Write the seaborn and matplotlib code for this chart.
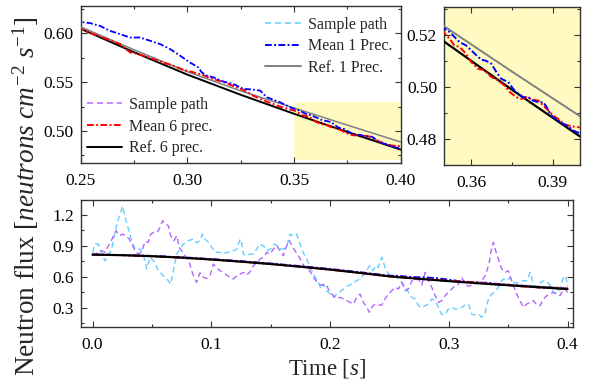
import matplotlib
matplotlib.use("Agg")
import matplotlib.pyplot as plt
import seaborn as sns
from matplotlib.lines import Line2D
from matplotlib.patches import Rectangle
from matplotlib.ticker import MultipleLocator, FormatStrFormatter

sns.set_theme(style="ticks")
plt.rcParams["font.family"] = ["Liberation Serif", "DejaVu Serif"]
plt.rcParams["mathtext.fontset"] = "custom"
plt.rcParams["mathtext.rm"] = "Liberation Serif"
plt.rcParams["mathtext.it"] = "Liberation Serif:italic"
plt.rcParams["mathtext.bf"] = "Liberation Serif:bold"

# ---------------- data ----------------
# Reference solutions (1 and 6 precursor groups)
REF_T = [0.0, 0.025, 0.05, 0.075, 0.1, 0.125, 0.15, 0.175, 0.2, 0.225,
         0.25, 0.275, 0.3, 0.325, 0.35, 0.375, 0.4]
REF6_V = [0.815, 0.810, 0.800, 0.786, 0.768, 0.747, 0.724, 0.698, 0.670, 0.638,
          0.6044, 0.5805, 0.5576, 0.537, 0.5176, 0.499, 0.481]
REF1_V = [0.817, 0.812, 0.802, 0.788, 0.770, 0.749, 0.726, 0.700, 0.672, 0.640,
          0.6064, 0.583, 0.5606, 0.541, 0.5235, 0.506, 0.4888]

# Monte Carlo means
MEAN1_T = [0.0, 0.025, 0.05, 0.075, 0.1, 0.125, 0.15, 0.175, 0.2, 0.225,
           0.2497, 0.2544, 0.259, 0.2637, 0.2684, 0.2731, 0.2778, 0.2825, 0.2872,
           0.2919, 0.2966, 0.3012, 0.3051, 0.3067, 0.3091, 0.3122, 0.3169, 0.3215,
           0.3262, 0.3300, 0.3341, 0.3372, 0.3434, 0.3480,
           0.3501, 0.352, 0.3538, 0.3557, 0.3581, 0.36, 0.3619, 0.3637, 0.3656,
           0.3674, 0.3693, 0.3711, 0.3723, 0.3736, 0.3754, 0.3773, 0.3791, 0.381,
           0.3828, 0.3847, 0.3865, 0.3878, 0.389, 0.3902, 0.3921, 0.394, 0.3958,
           0.3977, 0.3999]
MEAN1_V = [0.817, 0.812, 0.803, 0.790, 0.772, 0.752, 0.729, 0.704, 0.676, 0.645,
           0.6115, 0.6102, 0.6074, 0.6023, 0.599, 0.5955, 0.5955, 0.5922, 0.5888,
           0.5837, 0.5769, 0.570, 0.565, 0.560, 0.5566, 0.5548, 0.5505, 0.5481,
           0.543, 0.5425, 0.5413, 0.5345, 0.5294, 0.5245,
           0.5226, 0.5213, 0.5194, 0.5174, 0.5161, 0.5142, 0.5123, 0.5106, 0.5101,
           0.509, 0.5058, 0.5032, 0.5026, 0.502, 0.4994, 0.4974, 0.4961, 0.4961,
           0.4948, 0.4942, 0.4942, 0.4923, 0.4897, 0.4884, 0.4871, 0.4858, 0.4848,
           0.4832, 0.4822]

MEAN6_T = [0.0, 0.025, 0.05, 0.075, 0.1, 0.125, 0.15, 0.175, 0.2, 0.225,
           0.2497, 0.2559, 0.2622, 0.2684, 0.2731, 0.2755, 0.2794, 0.2840, 0.2887,
           0.2934, 0.2981, 0.3028, 0.3075, 0.3106, 0.3169, 0.3215, 0.3262, 0.3309,
           0.3372, 0.3434, 0.3480,
           0.3501, 0.352, 0.3538, 0.3557, 0.3581, 0.36, 0.3625, 0.3649, 0.3674,
           0.3699, 0.3723, 0.3742, 0.3767, 0.3785, 0.3804, 0.3828, 0.3847, 0.3865,
           0.3884, 0.3902, 0.3921, 0.394, 0.3958, 0.3977, 0.3999]
MEAN6_V = [0.815, 0.810, 0.800, 0.786, 0.768, 0.747, 0.724, 0.698, 0.670, 0.638,
           0.6047, 0.599, 0.5939, 0.5888, 0.5803, 0.5793, 0.5769, 0.5735, 0.570,
           0.5667, 0.5625, 0.5600, 0.5570, 0.5540, 0.5500, 0.5460, 0.5420, 0.5360,
           0.5300, 0.5250, 0.5220,
           0.5209, 0.5187, 0.5161, 0.5155, 0.5129, 0.5097, 0.5071, 0.5065, 0.5039,
           0.5026, 0.5006, 0.4981, 0.4961, 0.4955, 0.4961, 0.4951, 0.4948, 0.4929,
           0.491, 0.489, 0.4877, 0.4858, 0.4852, 0.4848, 0.4845]

# Sample path, 1 precursor group (light blue)
PATH1_T = [0.0, 0.0021, 0.0049, 0.0077, 0.0105, 0.0133, 0.0161, 0.0189, 0.0218, 0.0254,
           0.0274, 0.0302, 0.0330, 0.0358, 0.0400, 0.0434, 0.0456, 0.0484, 0.0526, 0.0554,
           0.0582, 0.0611, 0.0639, 0.0658, 0.0681, 0.0709, 0.0737, 0.0765, 0.0807, 0.0849,
           0.0877, 0.0905, 0.0925, 0.0947, 0.0976, 0.1004, 0.1032, 0.1074, 0.1102, 0.1130,
           0.1158, 0.1186, 0.1215, 0.1243, 0.1257, 0.1270, 0.1298, 0.1327, 0.1355, 0.1383,
           0.1405, 0.1439, 0.1467, 0.1501, 0.1529, 0.1557, 0.1585, 0.1613, 0.1641, 0.1663,
           0.1691, 0.1719, 0.1742, 0.1761, 0.1781, 0.1804, 0.1826, 0.1854, 0.1877, 0.1902,
           0.1921, 0.1944, 0.1972, 0.2000, 0.2028, 0.2056, 0.2084, 0.2112, 0.2141, 0.2169,
           0.2197, 0.2225, 0.2253, 0.2281, 0.2309, 0.2337, 0.2360, 0.2385, 0.2407, 0.2421,
           0.2438, 0.2463, 0.2492, 0.2520, 0.2548, 0.2576, 0.2604, 0.2632, 0.2660, 0.2688,
           0.2716, 0.2744, 0.2772, 0.2801, 0.2829, 0.2857, 0.2885, 0.2913, 0.2937, 0.2965,
           0.2997, 0.3025, 0.3053, 0.3081, 0.3109, 0.3137, 0.3166, 0.3193, 0.3221, 0.3250,
           0.3278, 0.3306, 0.3334, 0.3362, 0.3390, 0.3418, 0.3437, 0.3460, 0.3488, 0.3516,
           0.3544, 0.3572, 0.3600, 0.3628, 0.3656, 0.3685, 0.3713, 0.3741, 0.3769, 0.3797,
           0.3825, 0.3853, 0.3881, 0.3909, 0.3937, 0.3960, 0.3979, 0.3994, 0.4000]
PATH1_V = [0.837, 0.918, 0.918, 0.821, 0.756, 0.805, 0.870, 1.032, 1.162, 1.285,
           1.178, 1.065, 0.951, 0.870, 0.870, 0.789, 0.676, 0.789, 0.740, 0.659,
           0.627, 0.595, 0.562, 0.530, 0.659, 0.821, 0.870, 0.918, 0.951, 0.967,
           0.930, 0.950, 1.015, 0.967, 0.935, 0.886, 0.838, 0.838, 0.821, 0.838,
           0.838, 0.854, 0.870, 0.967, 0.918, 0.821, 0.805, 0.821, 0.821, 0.870,
           0.918, 0.902, 0.854, 0.870, 0.918, 0.902, 0.870, 0.870, 0.918, 1.015,
           0.999, 1.015, 0.935, 0.870, 0.821, 0.773, 0.708, 0.643, 0.595, 0.546,
           0.488, 0.530, 0.466, 0.433, 0.401, 0.433, 0.456, 0.482, 0.508, 0.521,
           0.546, 0.562, 0.585, 0.617, 0.669, 0.708, 0.659, 0.708, 0.692, 0.757,
           0.789, 0.692, 0.627, 0.604, 0.604, 0.579, 0.546, 0.508, 0.449, 0.401,
           0.385, 0.320, 0.304, 0.320, 0.336, 0.385, 0.369, 0.304, 0.239, 0.230,
           0.287, 0.304, 0.287, 0.287, 0.304, 0.326, 0.336, 0.239, 0.229, 0.239,
           0.207, 0.255, 0.385, 0.433, 0.456, 0.498, 0.546, 0.579, 0.562, 0.595,
           0.546, 0.540, 0.553, 0.562, 0.562, 0.643, 0.520, 0.498, 0.540, 0.562,
           0.553, 0.520, 0.449, 0.443, 0.475, 0.579, 0.611, 0.553, 0.500]

# Sample path, 6 precursor groups (purple)
PATH6_T = [0.0, 0.0021, 0.0049, 0.0077, 0.0105, 0.0133, 0.0153, 0.0175, 0.0198, 0.0226,
           0.0254, 0.0282, 0.0309, 0.0338, 0.0366, 0.0394, 0.0414, 0.0442, 0.0470, 0.0490,
           0.0518, 0.0546, 0.0568, 0.0590, 0.0619, 0.0639, 0.0658, 0.0686, 0.0709, 0.0731,
           0.0759, 0.0787, 0.0815, 0.0835, 0.0855, 0.0877, 0.0905, 0.0933, 0.0961, 0.0989,
           0.1018, 0.1046, 0.1074, 0.1102, 0.1130, 0.1158, 0.1186, 0.1215, 0.1243, 0.1270,
           0.1298, 0.1327, 0.1355, 0.1383, 0.1411, 0.1439, 0.1467, 0.1495, 0.1523, 0.1551,
           0.1579, 0.1607, 0.1635, 0.1658, 0.1686, 0.1714, 0.1742, 0.1761, 0.1790, 0.1818,
           0.1846, 0.1866, 0.1888, 0.1911, 0.1933, 0.1958, 0.1972, 0.2000, 0.2028, 0.2056,
           0.2084, 0.2112, 0.2141, 0.2169, 0.2197, 0.2225, 0.2253, 0.2281, 0.2309, 0.2331,
           0.2351, 0.2379, 0.2407, 0.2435, 0.2463, 0.2492, 0.2520, 0.2548, 0.2576, 0.2604,
           0.2632, 0.2660, 0.2688, 0.2716, 0.2744, 0.2772, 0.2801, 0.2829, 0.2857, 0.2885,
           0.2913, 0.2941, 0.2969, 0.2997, 0.3025, 0.3053, 0.3081, 0.3109, 0.3137, 0.3166,
           0.3193, 0.3221, 0.3250, 0.3278, 0.3306, 0.3326, 0.3343, 0.3362, 0.3376, 0.3390,
           0.3409, 0.3426, 0.3446, 0.3474, 0.3502, 0.3530, 0.3550, 0.3572, 0.3600, 0.3628,
           0.3656, 0.3685, 0.3713, 0.3741, 0.3769, 0.3797, 0.3825, 0.3853, 0.3881, 0.3909,
           0.3937, 0.3960, 0.3979, 0.4000]
PATH6_V = [0.805, 0.821, 0.838, 0.854, 0.838, 0.902, 0.935, 0.999, 1.048, 0.999,
           1.015, 0.999, 0.967, 0.902, 0.838, 0.821, 0.844, 0.941, 0.935, 1.015,
           1.032, 1.032, 1.080, 1.145, 1.113, 1.096, 0.999, 0.951, 0.999, 0.886,
           0.838, 0.789, 0.740, 0.659, 0.595, 0.546, 0.640, 0.595, 0.585, 0.611,
           0.724, 0.692, 0.659, 0.643, 0.617, 0.595, 0.579, 0.611, 0.627, 0.643,
           0.617, 0.650, 0.708, 0.740, 0.773, 0.789, 0.838, 0.821, 0.870, 0.902,
           0.854, 0.805, 0.902, 0.951, 0.886, 0.838, 0.789, 0.740, 0.692, 0.676,
           0.627, 0.585, 0.553, 0.530, 0.514, 0.530, 0.514, 0.449, 0.417, 0.391,
           0.401, 0.385, 0.369, 0.352, 0.336, 0.401, 0.433, 0.352, 0.304, 0.255,
           0.304, 0.336, 0.326, 0.326, 0.385, 0.433, 0.466, 0.498, 0.482, 0.546,
           0.466, 0.482, 0.562, 0.562, 0.579, 0.520, 0.643, 0.562, 0.498, 0.417,
           0.352, 0.369, 0.417, 0.449, 0.482, 0.514, 0.530, 0.595, 0.530, 0.508,
           0.520, 0.530, 0.546, 0.562, 0.611, 0.676, 0.757, 0.886, 0.935, 0.870,
           0.805, 0.740, 0.676, 0.643, 0.659, 0.562, 0.498, 0.433, 0.369, 0.304,
           0.336, 0.352, 0.369, 0.326, 0.320, 0.385, 0.417, 0.433, 0.449, 0.433,
           0.417, 0.466, 0.482, 0.449]

# zoom window shown in the inset
ZOOM_T = (0.35, 0.40)
ZOOM_V = (0.47, 0.53)

# ---------------- style ----------------
C_PATH1 = "#66CCFF"
C_PATH6 = "#B266FF"
C_MEAN1 = "#0000FF"
C_MEAN6 = "#FF0000"
C_REF1 = "#808080"
C_REF6 = "#000000"
C_ZOOM = "#FFFAC2"
LS_DASH = (0, (4, 2.5))
LS_DDOT = (0, (3.5, 1.2, 1.0, 1.2))

FS_TICK = 12.5
FS_LEG = 11.5


def draw(ax, t, v, color, lw, ls="-", z=2):
    sns.lineplot(x=t, y=v, ax=ax, color=color, linewidth=lw, linestyle=ls,
                 estimator=None, sort=False, zorder=z)


def style_axes(ax, xmaj, xmin, ymaj, ymin, xfmt, yfmt):
    ax.xaxis.set_major_locator(MultipleLocator(xmaj))
    ax.xaxis.set_minor_locator(MultipleLocator(xmin))
    ax.yaxis.set_major_locator(MultipleLocator(ymaj))
    ax.yaxis.set_minor_locator(MultipleLocator(ymin))
    ax.xaxis.set_major_formatter(FormatStrFormatter(xfmt))
    ax.yaxis.set_major_formatter(FormatStrFormatter(yfmt))
    ax.tick_params(which="both", direction="in", top=True, right=True,
                   colors="#333333", labelcolor="black", labelsize=FS_TICK)
    ax.tick_params(which="major", length=4, width=0.8)
    ax.tick_params(which="minor", length=2.5, width=0.8)
    ax.tick_params(axis="x", which="major", pad=7)
    ax.tick_params(axis="y", which="major", pad=5)
    for s in ax.spines.values():
        s.set_color("#333333")
        s.set_linewidth(1.0)
    ax.set_xlabel("")
    ax.set_ylabel("")


fig = plt.figure(figsize=(5.9, 3.85), dpi=100)
ax_main = fig.add_axes([0.1368, 0.5758, 0.5424, 0.4094])
ax_zoom = fig.add_axes([0.7525, 0.5714, 0.2305, 0.4112])
ax_full = fig.add_axes([0.1373, 0.1499, 0.8347, 0.3314])

# ---- top-left: detail of the end of the transient ----
ax_main.add_patch(Rectangle((ZOOM_T[0], ZOOM_V[0]), ZOOM_T[1] - ZOOM_T[0],
                            ZOOM_V[1] - ZOOM_V[0], facecolor=C_ZOOM,
                            edgecolor="none", zorder=0))
draw(ax_main, REF_T, REF6_V, C_REF6, 1.4, z=3)
draw(ax_main, REF_T, REF1_V, C_REF1, 1.1, z=3)
draw(ax_main, MEAN6_T, MEAN6_V, C_MEAN6, 1.4, LS_DDOT, z=4)
draw(ax_main, MEAN1_T, MEAN1_V, C_MEAN1, 1.3, LS_DDOT, z=5)
ax_main.set_xlim(0.25, 0.40)
ax_main.set_ylim(0.467, 0.628)
style_axes(ax_main, 0.05, 0.025, 0.05, 0.025, "%.2f", "%.2f")

h_p1 = Line2D([], [], color=C_PATH1, lw=1.1, ls=LS_DASH)
h_m1 = Line2D([], [], color=C_MEAN1, lw=1.4, ls=LS_DDOT)
h_r1 = Line2D([], [], color=C_REF1, lw=1.4)
h_p6 = Line2D([], [], color=C_PATH6, lw=1.1, ls=LS_DASH)
h_m6 = Line2D([], [], color=C_MEAN6, lw=1.4, ls=LS_DDOT)
h_r6 = Line2D([], [], color=C_REF6, lw=1.4)
leg_kw = dict(frameon=False, fontsize=FS_LEG, handlelength=2.2,
              handletextpad=0.45, labelspacing=0.35, borderpad=0, borderaxespad=0)
leg1 = ax_main.legend([h_p1, h_m1, h_r1], ["Sample path", "Mean 1 Prec.", "Ref. 1 Prec."],
                      loc="upper right", bbox_to_anchor=(0.973, 0.93), **leg_kw)
ax_main.add_artist(leg1)
ax_main.legend([h_p6, h_m6, h_r6], ["Sample path", "Mean 6 prec.", "Ref. 6 prec."],
               loc="lower left", bbox_to_anchor=(0.02, 0.045), **leg_kw)

# ---- top-right: zoomed inset ----
ax_zoom.set_facecolor(C_ZOOM)
draw(ax_zoom, REF_T, REF6_V, C_REF6, 1.6, z=3)
draw(ax_zoom, REF_T, REF1_V, C_REF1, 1.4, z=3)
draw(ax_zoom, MEAN6_T, MEAN6_V, C_MEAN6, 1.4, LS_DDOT, z=4)
draw(ax_zoom, MEAN1_T, MEAN1_V, C_MEAN1, 1.4, LS_DDOT, z=5)
ax_zoom.set_xlim(*ZOOM_T)
ax_zoom.set_ylim(ZOOM_V[0], 0.531)
style_axes(ax_zoom, 0.03, 0.015, 0.02, 0.01, "%.2f", "%.2f")

# ---- bottom: whole transient ----
draw(ax_full, PATH1_T, PATH1_V, C_PATH1, 1.0, LS_DASH, z=2)
draw(ax_full, PATH6_T, PATH6_V, C_PATH6, 1.0, LS_DASH, z=2)
draw(ax_full, REF_T, REF1_V, C_REF1, 1.3, z=3)
draw(ax_full, MEAN1_T, MEAN1_V, C_MEAN1, 1.4, LS_DDOT, z=4)
draw(ax_full, MEAN6_T, MEAN6_V, C_MEAN6, 1.4, LS_DDOT, z=4)
draw(ax_full, REF_T, REF6_V, C_REF6, 1.5, z=5)
ax_full.set_xlim(-0.0097, 0.405)
ax_full.set_ylim(0.11, 1.349)
style_axes(ax_full, 0.1, 0.05, 0.3, 0.15, "%.1f", "%.1f")
ax_full.set_xlabel(r"Time [$s$]", fontsize=16.5, labelpad=3)

fig.text(0.044, 0.49, r"Neutron flux [$neutrons\ cm^{-2}\ s^{-1}$]",
         rotation=90, ha="center", va="center", fontsize=19.6)

fig.savefig("out.png", dpi=100)
